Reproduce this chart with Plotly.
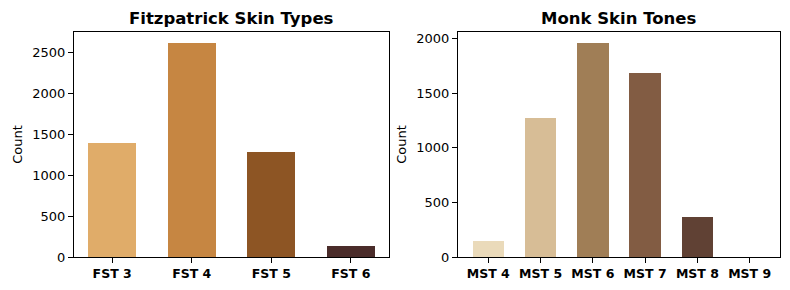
import plotly.graph_objects as go
from plotly.subplots import make_subplots

fst_labels = ["FST 3", "FST 4", "FST 5", "FST 6"]
fst_counts = [1400, 2625, 1290, 135]
fst_colors = ["#E0AC69", "#C68642", "#8D5524", "#4A2C2A"]

mst_labels = ["MST 4", "MST 5", "MST 6", "MST 7", "MST 8", "MST 9"]
mst_counts = [148, 1275, 1963, 1688, 367, 0]
mst_colors = ["#EADABA", "#D7BD96", "#A07E56", "#825C43", "#604134", "#3A312A"]

FONT = "DejaVu Sans"

fig = make_subplots(rows=1, cols=2)

fig.add_trace(go.Bar(x=list(range(len(fst_labels))), y=fst_counts, width=0.6,
                     marker=dict(color=fst_colors, line=dict(width=0)),
                     showlegend=False), row=1, col=1)
fig.add_trace(go.Bar(x=list(range(len(mst_labels))), y=mst_counts, width=0.6,
                     marker=dict(color=mst_colors, line=dict(width=0)),
                     showlegend=False), row=1, col=2)

ydom = [1 - 257 / 290, 1 - 32 / 290]
axis_common = dict(showline=True, linecolor="black", linewidth=1, mirror=True,
                   ticks="outside", ticklen=5, tickcolor="black", tickwidth=1,
                   showgrid=False, zeroline=False, automargin=False)

n1, n2 = len(fst_labels), len(mst_labels)
pad1 = 0.05 * (n1 - 1 + 0.6)
pad2 = 0.05 * (n2 - 1 + 0.6)

fig.update_layout(
    width=790, height=290,
    margin=dict(l=0, r=0, t=0, b=0),
    plot_bgcolor="white", paper_bgcolor="white",
    font=dict(family=FONT, size=13, color="black"),
    bargap=0,
    xaxis=dict(domain=[74 / 790, 389 / 790], range=[-0.3 - pad1, n1 - 1 + 0.3 + pad1],
               tickmode="array", tickvals=list(range(n1)), ticktext=fst_labels,
               tickfont=dict(family=FONT, size=12.5, color="black", weight="bold"),
               **axis_common),
    xaxis2=dict(domain=[458 / 790, 780 / 790], range=[-0.3 - pad2, n2 - 1 + 0.3 + pad2],
                tickmode="array", tickvals=list(range(n2)), ticktext=mst_labels,
                tickfont=dict(family=FONT, size=12.5, color="black", weight="bold"),
                **axis_common),
    yaxis=dict(domain=ydom, range=[0, max(fst_counts) * 1.05],
               tickvals=[0, 500, 1000, 1500, 2000, 2500],
               tickfont=dict(family=FONT, size=13, color="black"),
               title=dict(text="Count", font=dict(family=FONT, size=13, color="black"), standoff=6),
               **axis_common),
    yaxis2=dict(domain=ydom, range=[0, max(mst_counts) * 1.05],
                tickvals=[0, 500, 1000, 1500, 2000],
                tickfont=dict(family=FONT, size=13, color="black"),
                title=dict(text="Count", font=dict(family=FONT, size=13, color="black"), standoff=6),
                **axis_common),
    annotations=[
        dict(text="<b>Fitzpatrick Skin Types</b>", x=(74 + 389) / 2 / 790, y=1 - 18 / 290,
             xref="paper", yref="paper", showarrow=False, xanchor="center", yanchor="middle",
             font=dict(family=FONT, size=16.5, color="black")),
        dict(text="<b>Monk Skin Tones</b>", x=(458 + 780) / 2 / 790, y=1 - 18 / 290,
             xref="paper", yref="paper", showarrow=False, xanchor="center", yanchor="middle",
             font=dict(family=FONT, size=16.5, color="black")),
    ],
)

fig.write_html("out.html", config={"displayModeBar": False},
               post_script="document.body.style.margin='0';")
